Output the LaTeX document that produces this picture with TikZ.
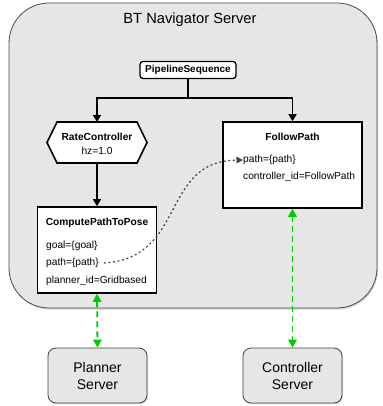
\documentclass[tikz,border=0pt]{standalone}
\usepackage{fontspec}
\setmainfont{Liberation Sans}
\usetikzlibrary{arrows.meta,shadows}
\definecolor{panel}{HTML}{E6E6E6}
\definecolor{linkgreen}{HTML}{00CC00}
\definecolor{dotgray}{HTML}{444444}
\tikzset{
  bigpanel/.style={draw=black!70, line width=0.8pt, fill=panel, rounded corners=40pt,
    drop shadow={shadow xshift=1pt, shadow yshift=-1.5pt, opacity=0.35}},
  whitebox/.style={draw=black, line width=1.6pt, fill=white},
  roundbox/.style={draw=black, line width=1.3pt, fill=white, rounded corners=3pt},
  serverbox/.style={draw=black!75, line width=0.8pt, fill=panel, rounded corners=8pt,
    minimum width=99pt, minimum height=55pt, align=center, font=\fontsize{14}{17}\selectfont,
    drop shadow={shadow xshift=1pt, shadow yshift=-1.2pt, opacity=0.3}},
  title/.style={font=\fontsize{10.2}{12}\selectfont\bfseries, inner sep=0pt},
  param/.style={font=\fontsize{10.2}{12}\selectfont, inner sep=0pt, anchor=west},
  treearrow/.style={line width=1.6pt, -{Triangle[length=7pt, width=8pt]}},
  linkarrow/.style={draw=linkgreen, line width=1.8pt, dash pattern=on 6pt off 4pt,
    {Triangle[length=8pt, width=8.5pt]}-{Triangle[length=8pt, width=8.5pt]}},
  dataflow/.style={draw=dotgray, line width=1.2pt, dash pattern=on 2pt off 2.6pt,
    -{Triangle[length=6.5pt, width=6.5pt]}}
}
\begin{document}
\begin{tikzpicture}[x=1pt, y=-1pt]
  \useasboundingbox (0,0) rectangle (382,406);

  % outer navigator panel
  \node[bigpanel, minimum width=368pt, minimum height=305pt, inner sep=0pt] (server) at (193,155.5) {};
  \node[font=\fontsize{14.7}{17}\selectfont] (servertitle) at (190,20) {BT Navigator Server};

  % behaviour tree nodes
  \node[roundbox, minimum width=96pt, minimum height=17pt, inner sep=0pt,
        font=\fontsize{10}{12}\selectfont\bfseries] (pipe) at (188,70) {PipelineSequence};

  \draw[whitebox] (57,122) -- (137,122) -- (147,142.5) -- (137,163) -- (57,163) -- (47,142.5) -- cycle;
  \coordinate (ratetop) at (97,122);
  \coordinate (ratebottom) at (97,163);
  \node[title] (ratetitle) at (97,136.5) {RateController};
  \node[font=\fontsize{10.2}{12}\selectfont, inner sep=0pt] (ratehz) at (97,151) {hz=1.0};

  \node[whitebox, minimum width=119pt, minimum height=86pt, inner sep=0pt] (compute) at (97,250) {};
  \node[title] (computetitle) at (97,223) {ComputePathToPose};
  \node[param] (goal) at (46,246) {goal=\{goal\}};
  \node[param] (cpath) at (46,263) {path=\{path\}};
  \node[param] (planner) at (46,281) {planner\_id=Gridbased};

  \node[whitebox, minimum width=139pt, minimum height=86pt, inner sep=0pt] (follow) at (292.5,165) {};
  \node[title] (followtitle) at (292.5,137) {FollowPath};
  \node[param] (fpath) at (243,160) {path=\{path\}};
  \node[param] (fctrl) at (243,177) {controller\_id=FollowPath};

  % servers
  \node[serverbox] (planserver) at (97.5,375.5) {Planner\\Server};
  \node[serverbox] (ctrlserver) at (292.5,375.5) {Controller\\Server};

  % tree edges
  \draw[treearrow] (pipe.south) -- (188,98) -| (ratetop);
  \draw[treearrow] (188,98) -| (follow.north);
  \draw[treearrow] (ratebottom) -- (compute.north);

  % data flow of the path blackboard entry
  \draw[dataflow] (cpath.east) ++(5,0) .. controls (187,258) and (160,161) .. (fpath.west);

  % action server links
  \draw[linkarrow] (compute.south) -- (planserver.north);
  \draw[linkarrow] (follow.south) -- (ctrlserver.north);
\end{tikzpicture}
\end{document}
